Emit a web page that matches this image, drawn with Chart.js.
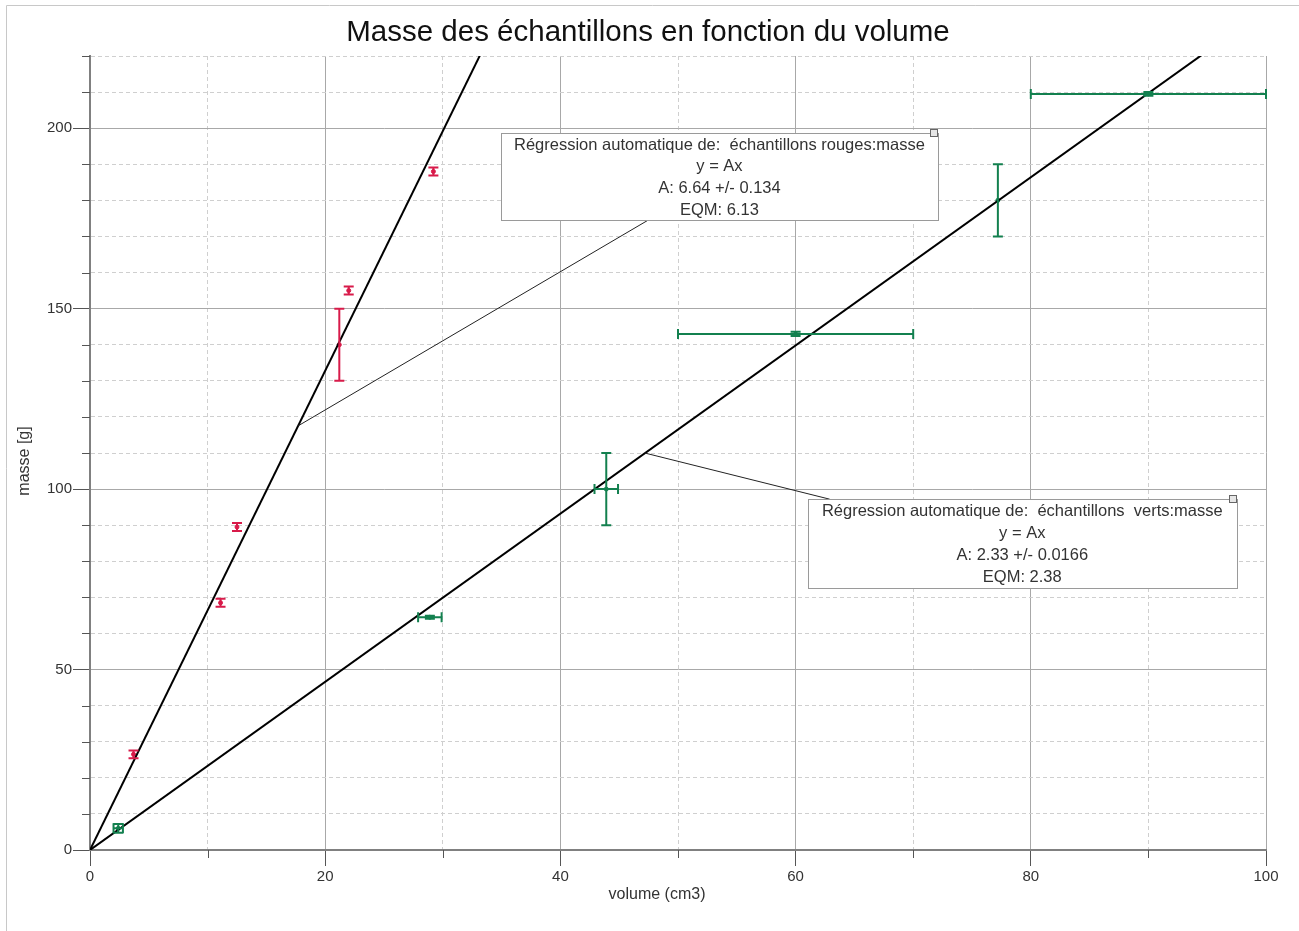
<!DOCTYPE html>
<html>
<head>
<meta charset="utf-8">
<script src="https://cdn.jsdelivr.net/npm/chart.js@4/dist/chart.umd.min.js"></script>
<style>
  body { margin: 0; background: #fff; }
  canvas { display: block; }
</style>
</head>
<body>
<canvas id="masseChart" width="1299" height="931"></canvas>
<script>
// données
const chartTitle = 'Masse des échantillons en fonction du volume';
const xTitle = 'volume (cm3)';
const yTitle = 'masse [g]';

const redX = [3.7, 11.1, 12.5, 21.2, 22.0, 29.2];
const redY = [26.5, 68.5, 89.5, 140, 155, 188];
const redXErr = [0, 0, 0, 0, 0, 0];
const redYErr = [1.1, 1.1, 1.1, 10, 1.1, 1.1];

const greenX = [2.4, 28.9, 43.9, 60, 77.2, 90];
const greenY = [6, 64.5, 100, 143, 180, 209.5];
const greenXErr = [0.4, 1, 1, 10, 0, 10];
const greenYErr = [1.2, 0.4, 10, 0.6, 10, 0.5];

// régressions y = Ax
const redA = 6.64;
const greenA = 2.33;
const redFitText = ['Régression automatique de:  échantillons rouges:masse', 'y = Ax', 'A: 6.64 +/- 0.134', 'EQM: 6.13'];
const greenFitText = ['Régression automatique de:  échantillons  verts:masse', 'y = Ax', 'A: 2.33 +/- 0.0166', 'EQM: 2.38'];

// boîtes d'annotation (unités des axes) : gauche, droite, haut, bas, point d'attache sur la droite
const redBox = { x1: 34.95, x2: 72.1, y1: 198.6, y2: 174.5, anchorX: 17.7, fromX: 47.45, side: 'bottom' };
const greenBox = { x1: 61.05, x2: 97.5, y1: 97.2, y2: 72.6, anchorX: 47.2, fromX: 62.9, side: 'top' };

const RED = '#d81b4a';
const GREEN = '#13804f';
const FONT = "'Liberation Sans', Arial, sans-serif";

function toPoints(xs, ys) {
    return xs.map((x, i) => ({ x: x, y: ys[i] }));
}

function drawErrorBars(ctx, sx, sy, xs, ys, xe, ye, color) {
    ctx.save();
    ctx.strokeStyle = color;
    ctx.lineWidth = 2;
    const cap = 5;
    for (let i = 0; i < xs.length; i++) {
        const px = sx.getPixelForValue(xs[i]);
        const py = sy.getPixelForValue(ys[i]);
        ctx.beginPath();
        if (ye[i] > 0) {
            const t = sy.getPixelForValue(ys[i] + ye[i]);
            const b = sy.getPixelForValue(ys[i] - ye[i]);
            ctx.moveTo(px, t); ctx.lineTo(px, b);
            ctx.moveTo(px - cap, t); ctx.lineTo(px + cap, t);
            ctx.moveTo(px - cap, b); ctx.lineTo(px + cap, b);
        }
        if (xe[i] > 0) {
            const l = sx.getPixelForValue(xs[i] - xe[i]);
            const r = sx.getPixelForValue(xs[i] + xe[i]);
            ctx.moveTo(l, py); ctx.lineTo(r, py);
            ctx.moveTo(l, py - cap); ctx.lineTo(l, py + cap);
            ctx.moveTo(r, py - cap); ctx.lineTo(r, py + cap);
        }
        ctx.stroke();
    }
    ctx.restore();
}

function drawFitBox(ctx, sx, sy, box, slope, lines) {
    const l = sx.getPixelForValue(box.x1), r = sx.getPixelForValue(box.x2);
    const t = sy.getPixelForValue(box.y1), b = sy.getPixelForValue(box.y2);
    // trait de rappel
    ctx.save();
    ctx.strokeStyle = '#222';
    ctx.lineWidth = 1;
    ctx.beginPath();
    ctx.moveTo(sx.getPixelForValue(box.anchorX), sy.getPixelForValue(box.anchorX * slope));
    ctx.lineTo(sx.getPixelForValue(box.fromX), box.side === 'bottom' ? b : t);
    ctx.stroke();
    // boîte
    ctx.fillStyle = '#fff';
    ctx.fillRect(l, t, r - l, b - t);
    ctx.strokeStyle = '#9a9a9a';
    ctx.strokeRect(Math.round(l) + 0.5, Math.round(t) + 0.5, Math.round(r - l), Math.round(b - t));
    ctx.fillStyle = '#e6e6e6';
    ctx.fillRect(Math.round(r) - 7.5, Math.round(t) - 3.5, 7, 7);
    ctx.strokeStyle = '#666';
    ctx.strokeRect(Math.round(r) - 7.5, Math.round(t) - 3.5, 7, 7);
    // texte
    ctx.fillStyle = '#333';
    ctx.font = '16.5px ' + FONT;
    ctx.textAlign = 'center';
    ctx.textBaseline = 'middle';
    const cx = (l + r) / 2;
    const step = (b - t) / 4;
    lines.forEach((s, i) => ctx.fillText(s, cx, t + step * (i + 0.5) + 1));
    ctx.restore();
}

const overlay = {
    id: 'overlay',
    beforeDraw(chart) {
        const ctx = chart.ctx;
        ctx.save();
        ctx.strokeStyle = '#c8c8c8';
        ctx.lineWidth = 1;
        ctx.beginPath();
        ctx.moveTo(6.5, 931);
        ctx.lineTo(6.5, 5.5);
        ctx.lineTo(1299, 5.5);
        ctx.stroke();
        ctx.restore();
    },
    afterDatasetsDraw(chart) {
        const ctx = chart.ctx, sx = chart.scales.x, sy = chart.scales.y;
        drawErrorBars(ctx, sx, sy, redX, redY, redXErr, redYErr, RED);
        drawErrorBars(ctx, sx, sy, greenX, greenY, greenXErr, greenYErr, GREEN);
    },
    afterDraw(chart) {
        const ctx = chart.ctx, sx = chart.scales.x, sy = chart.scales.y;
        const area = chart.chartArea;
        // petites graduations
        ctx.save();
        ctx.strokeStyle = '#555';
        ctx.lineWidth = 1;
        ctx.beginPath();
        sx.ticks.forEach(t => {
            if (t.value % 20 !== 0) {
                const px = Math.round(sx.getPixelForValue(t.value)) + 0.5;
                ctx.moveTo(px, area.bottom); ctx.lineTo(px, area.bottom + 8);
            }
        });
        sy.ticks.forEach(t => {
            if (t.value % 50 !== 0) {
                const py = Math.round(sy.getPixelForValue(t.value)) + 0.5;
                ctx.moveTo(area.left, py); ctx.lineTo(area.left - 8, py);
            }
        });
        ctx.stroke();
        ctx.restore();

        drawFitBox(ctx, sx, sy, redBox, redA, redFitText);
        drawFitBox(ctx, sx, sy, greenBox, greenA, greenFitText);

        // titres
        ctx.save();
        ctx.fillStyle = '#111';
        ctx.font = '29.5px ' + FONT;
        ctx.textAlign = 'center';
        ctx.textBaseline = 'alphabetic';
        ctx.fillText(chartTitle, 648, 41);
        ctx.fillStyle = '#333';
        ctx.font = '16px ' + FONT;
        ctx.textBaseline = 'middle';
        ctx.fillText(xTitle, 657, 895);
        ctx.translate(25, 461);
        ctx.rotate(-Math.PI / 2);
        ctx.fillText(yTitle, 0, 0);
        ctx.restore();
    }
};

const gridColor = ctx => (ctx.tick && ctx.tick.value % (ctx.scale.axis === 'x' ? 20 : 50) === 0) ? '#a8a8a8' : '#cfcfcf';
const gridDash = ctx => (ctx.type === 'tick' && ctx.tick.value % (ctx.scale.axis === 'x' ? 20 : 50) !== 0) ? [4, 3] : [];
const tickCol = ctx => (ctx.tick && ctx.tick.value % (ctx.scale.axis === 'x' ? 20 : 50) === 0) ? '#555' : 'rgba(0,0,0,0)';

new Chart(document.getElementById('masseChart').getContext('2d'), {
    type: 'scatter',
    data: {
        datasets: [
            {
                label: 'régression rouges',
                data: [{ x: 0, y: 0 }, { x: 100, y: redA * 100 }],
                showLine: true,
                borderColor: '#000',
                borderWidth: 2,
                pointRadius: 0
            },
            {
                label: 'régression verts',
                data: [{ x: 0, y: 0 }, { x: 100, y: greenA * 100 }],
                showLine: true,
                borderColor: '#000',
                borderWidth: 2,
                pointRadius: 0
            },
            {
                label: 'échantillons rouges',
                data: toPoints(redX, redY),
                backgroundColor: RED,
                borderColor: RED,
                pointRadius: 2
            },
            {
                label: 'échantillons verts',
                data: toPoints(greenX, greenY),
                backgroundColor: GREEN,
                borderColor: GREEN,
                pointRadius: 2
            }
        ]
    },
    options: {
        responsive: false,
        animation: false,
        devicePixelRatio: 1,
        layout: { padding: { left: 0, right: 33, top: 56, bottom: 0 } },
        plugins: {
            legend: { display: false },
            tooltip: { enabled: false }
        },
        scales: {
            x: {
                type: 'linear',
                min: 0,
                max: 100,
                afterFit: s => { s.height = 81; },
                ticks: {
                    stepSize: 10,
                    autoSkip: false,
                    maxRotation: 0,
                    padding: 2,
                    color: '#333',
                    font: { family: FONT, size: 15 },
                    callback: v => v % 20 === 0 ? v : ''
                },
                grid: { color: gridColor, tickColor: tickCol, tickLength: 16 },
                border: { color: '#808080', width: 2, dash: gridDash }
            },
            y: {
                type: 'linear',
                min: 0,
                max: 220,
                afterFit: s => { s.width = 90; },
                ticks: {
                    stepSize: 10,
                    autoSkip: false,
                    padding: 1,
                    color: '#333',
                    font: { family: FONT, size: 15 },
                    callback: v => v % 50 === 0 ? v : ''
                },
                grid: { color: gridColor, tickColor: tickCol, tickLength: 17 },
                border: { color: '#808080', width: 2, dash: gridDash }
            }
        }
    },
    plugins: [overlay]
});
</script>
</body>
</html>
